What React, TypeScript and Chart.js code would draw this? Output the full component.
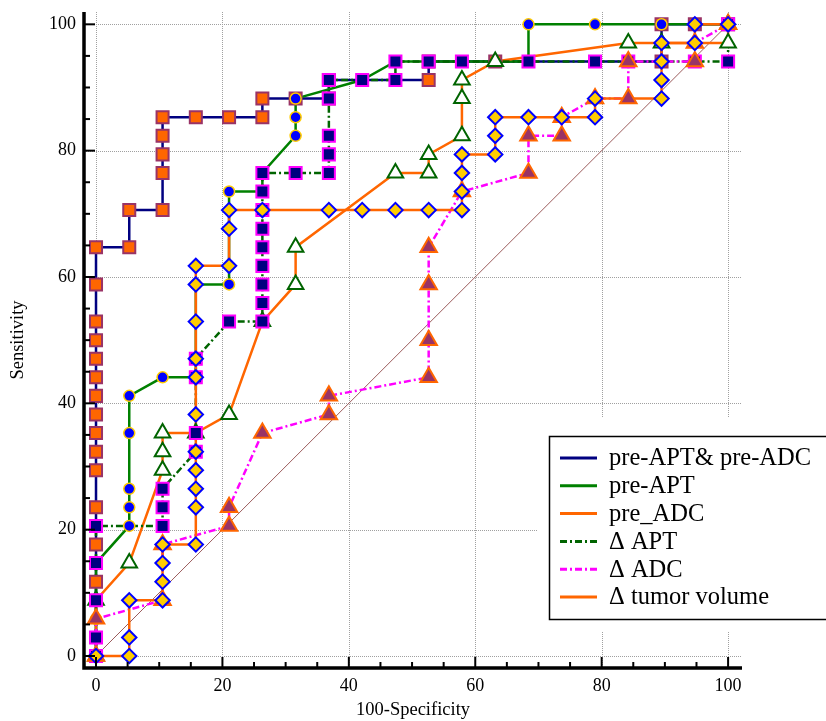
import React, { useEffect, useRef } from 'react';
import { Chart, registerables } from 'chart.js';

Chart.register(...registerables);

// ---------- data ----------
const seriesLabels = ['pre-APT& pre-ADC', 'pre-APT', 'pre_ADC', '\u0394 APT', '\u0394 ADC', '\u0394 tumor volume'];

const preAptAdcX = [0, 0, 0, 0, 0, 0, 0, 0, 0, 0, 0, 0, 0, 0, 0, 5.26, 5.26, 10.53, 10.53, 10.53, 10.53, 10.53, 15.79, 21.05, 26.32, 26.32, 31.58, 36.84, 36.84, 52.63, 52.63, 63.16, 89.47, 89.47, 94.74, 100];
const preAptAdcY = [0, 11.76, 17.65, 23.53, 29.41, 32.35, 35.29, 38.24, 41.18, 44.12, 47.06, 50, 52.94, 58.82, 64.71, 64.71, 70.59, 70.59, 76.47, 79.41, 82.35, 85.29, 85.29, 85.29, 85.29, 88.24, 88.24, 88.24, 91.18, 91.18, 94.12, 94.12, 94.12, 100, 100, 100];

const preAptX = [0, 0, 0, 5.26, 5.26, 5.26, 5.26, 5.26, 10.53, 15.79, 15.79, 21.05, 21.05, 26.32, 26.32, 31.58, 31.58, 31.58, 42.11, 47.37, 68.42, 68.42, 78.95, 89.47, 100];
const preAptY = [0, 5.88, 14.71, 20.59, 23.53, 26.47, 35.29, 41.18, 44.12, 44.12, 58.82, 58.82, 73.53, 73.53, 76.47, 82.35, 85.29, 88.24, 91.18, 94.12, 94.12, 100, 100, 100, 100];

const preAdcX = [0, 0, 5.26, 10.53, 10.53, 10.53, 15.79, 21.05, 26.32, 31.58, 31.58, 47.37, 52.63, 52.63, 57.89, 57.89, 57.89, 63.16, 84.21, 89.47, 100, 100];
const preAdcY = [0, 8.82, 14.71, 29.41, 32.35, 35.29, 35.29, 38.24, 52.94, 58.82, 64.71, 76.47, 76.47, 79.41, 82.35, 88.24, 91.18, 94.12, 97.06, 97.06, 97.06, 100];

const deltaAptX = [0, 0, 0, 0, 0, 10.53, 10.53, 10.53, 15.79, 15.79, 15.79, 15.79, 21.05, 26.32, 26.32, 26.32, 26.32, 26.32, 26.32, 26.32, 26.32, 26.32, 31.58, 36.84, 36.84, 36.84, 36.84, 36.84, 42.11, 47.37, 47.37, 52.63, 57.89, 68.42, 78.95, 84.21, 94.74, 100, 100];
const deltaAptY = [0, 2.94, 8.82, 14.71, 20.59, 20.59, 23.53, 26.47, 32.35, 35.29, 44.12, 47.06, 52.94, 52.94, 55.88, 58.82, 61.76, 64.71, 67.65, 70.59, 73.53, 76.47, 76.47, 76.47, 79.41, 82.35, 88.24, 91.18, 91.18, 91.18, 94.12, 94.12, 94.12, 94.12, 94.12, 94.12, 94.12, 94.12, 100];

const deltaAdcX = [0, 0, 10.53, 10.53, 21.05, 21.05, 26.32, 36.84, 36.84, 52.63, 52.63, 52.63, 52.63, 57.89, 68.42, 68.42, 73.68, 73.68, 78.95, 84.21, 84.21, 94.74, 94.74, 100];
const deltaAdcY = [0, 5.88, 8.82, 17.65, 20.59, 23.53, 35.29, 38.24, 41.18, 44.12, 50, 58.82, 64.71, 73.53, 76.47, 82.35, 82.35, 85.29, 88.24, 88.24, 94.12, 94.12, 97.06, 100];

const deltaTvX = [0, 5.26, 5.26, 5.26, 10.53, 10.53, 10.53, 10.53, 15.79, 15.79, 15.79, 15.79, 15.79, 15.79, 15.79, 15.79, 15.79, 15.79, 15.79, 21.05, 21.05, 21.05, 26.32, 36.84, 42.11, 47.37, 52.63, 57.89, 57.89, 57.89, 57.89, 63.16, 63.16, 63.16, 68.42, 73.68, 78.95, 78.95, 89.47, 89.47, 89.47, 89.47, 94.74, 94.74, 100];
const deltaTvY = [0, 0, 2.94, 8.82, 8.82, 11.76, 14.71, 17.65, 17.65, 23.53, 26.47, 29.41, 32.35, 38.24, 44.12, 47.06, 52.94, 58.82, 61.76, 61.76, 67.65, 70.59, 70.59, 70.59, 70.59, 70.59, 70.59, 70.59, 73.53, 76.47, 79.41, 79.41, 82.35, 85.29, 85.29, 85.29, 85.29, 88.24, 88.24, 91.18, 94.12, 97.06, 97.06, 100, 100];

const diagX = [0, 100];
const diagY = [0, 100];

const tickValues = [0, 5, 10, 15, 20, 25, 30, 35, 40, 45, 50, 55, 60, 65, 70, 75, 80, 85, 90, 95, 100];
const labelValues = [0, 20, 40, 60, 80, 100];

// ---------- styles ----------
const SERIF = "'Liberation Serif', 'Times New Roman', Times, serif";

const styles = [
  { line: '#000080', dash: [] as number[], shape: 'rect', fill: '#FF6600', stroke: '#993366', r: 8.5, bw: 2 },
  { line: '#008000', dash: [] as number[], shape: 'circle', fill: '#0000FF', stroke: '#FFCC00', r: 5.5, bw: 1.5 },
  { line: '#FF6600', dash: [] as number[], shape: 'triangle', fill: '#FFFFFF', stroke: '#006400', r: 9, bw: 2 },
  { line: '#006400', dash: [7, 3, 2, 3], shape: 'rect', fill: '#000080', stroke: '#FF00FF', r: 8.5, bw: 2 },
  { line: '#FF00FF', dash: [7, 3, 2, 3], shape: 'triangle', fill: '#993366', stroke: '#FF6600', r: 9.5, bw: 2 },
  { line: '#FF6600', dash: [] as number[], shape: 'rectRot', fill: '#FFCC00', stroke: '#0000FF', r: 7.2, bw: 2 },
];

const rocPlugin = {
  id: 'rocFrame',
  beforeDatasetsDraw(chart: any) {
    const { ctx, chartArea: a } = chart;
    const xs = chart.scales.x;
    const ys = chart.scales.y;
    ctx.save();
    ctx.strokeStyle = '#a0a0a0';
    ctx.lineWidth = 1;
    ctx.setLineDash([1, 1]);
    labelValues.forEach((v) => {
      const px = Math.round(xs.getPixelForValue(v)) + 0.5;
      ctx.beginPath();
      ctx.moveTo(px, a.top);
      ctx.lineTo(px, a.bottom);
      ctx.stroke();
      const py = Math.round(ys.getPixelForValue(v)) + 0.5;
      ctx.beginPath();
      ctx.moveTo(a.left, py);
      ctx.lineTo(a.right, py);
      ctx.stroke();
    });
    ctx.setLineDash([]);
    ctx.fillStyle = '#ffffff';
    ctx.fillRect(538, 418, chart.width - 538, 214);
    ctx.restore();
  },
  afterDatasetsDraw(chart: any) {
    const { ctx, chartArea: a } = chart;
    const xs = chart.scales.x;
    const ys = chart.scales.y;
    ctx.save();
    // axis lines
    ctx.strokeStyle = '#000';
    ctx.lineWidth = 3.5;
    ctx.lineJoin = 'miter';
    ctx.beginPath();
    ctx.moveTo(a.left, a.top);
    ctx.lineTo(a.left, a.bottom);
    ctx.lineTo(a.right, a.bottom);
    ctx.stroke();
    // inward ticks
    ctx.lineWidth = 2;
    tickValues.forEach((v) => {
      const len = labelValues.includes(v) ? 11 : 6;
      const px = xs.getPixelForValue(v);
      ctx.beginPath();
      ctx.moveTo(px, a.bottom);
      ctx.lineTo(px, a.bottom - len);
      ctx.stroke();
      const py = ys.getPixelForValue(v);
      ctx.beginPath();
      ctx.moveTo(a.left, py);
      ctx.lineTo(a.left + len, py);
      ctx.stroke();
    });
    // legend
    const lx = 549;
    const ly = 436;
    ctx.fillStyle = '#fff';
    ctx.fillRect(lx, ly, 300, 183);
    ctx.strokeStyle = '#000';
    ctx.lineWidth = 1.5;
    ctx.strokeRect(lx + 0.5, ly + 0.5, 300, 183);
    seriesLabels.forEach((label, i) => {
      const cy = 458 + i * 27.8;
      ctx.strokeStyle = styles[i].line;
      ctx.lineWidth = 3;
      ctx.setLineDash(styles[i].dash);
      ctx.beginPath();
      ctx.moveTo(560, cy);
      ctx.lineTo(597, cy);
      ctx.stroke();
      ctx.setLineDash([]);
      ctx.fillStyle = '#000';
      ctx.font = `24.5px ${SERIF}`;
      ctx.textBaseline = 'middle';
      ctx.textAlign = 'left';
      ctx.fillText(label, 609, cy + 1);
    });
    ctx.restore();
  },
};

export default function App() {
  const ref = useRef<HTMLCanvasElement>(null);

  useEffect(() => {
    const canvas = ref.current;
    if (!canvas) return;
    const curves = [
      [preAptAdcX, preAptAdcY],
      [preAptX, preAptY],
      [preAdcX, preAdcY],
      [deltaAptX, deltaAptY],
      [deltaAdcX, deltaAdcY],
      [deltaTvX, deltaTvY],
    ];
    const toPts = (xs: number[], ys: number[]) => xs.map((x, i) => ({ x, y: ys[i] }));

    const diagSet: any = {
      label: 'diagonal',
      data: toPts(diagX, diagY),
      showLine: true,
      borderColor: '#9b5b5b',
      borderWidth: 1,
      pointRadius: 0,
      order: 1000,
    };
    const lineSets: any[] = curves.map(([xs, ys], i) => ({
      label: seriesLabels[i],
      data: toPts(xs, ys),
      showLine: true,
      borderColor: styles[i].line,
      borderWidth: 2.5,
      borderDash: styles[i].dash,
      pointRadius: 0,
      tension: 0,
      fill: false,
      order: 500 - i,
    }));
    const markerSets: any[] = curves.map(([xs, ys], i) => ({
      label: seriesLabels[i] + ' points',
      data: toPts(xs, ys),
      showLine: false,
      pointStyle: styles[i].shape,
      pointRadius: styles[i].r,
      pointBackgroundColor: styles[i].fill,
      pointBorderColor: styles[i].stroke,
      pointBorderWidth: styles[i].bw,
      order: 100 - i,
    }));

    const chart = new Chart(canvas, {
      type: 'scatter',
      data: { datasets: [diagSet, ...lineSets, ...markerSets] },
      options: {
        responsive: false,
        animation: false,
        events: [],
        layout: { padding: { top: 12, right: 84, bottom: 0, left: 0 } },
        plugins: { legend: { display: false }, tooltip: { enabled: false } },
        scales: {
          x: {
            type: 'linear',
            position: 'bottom',
            min: -1.9,
            max: 102.2,
            afterBuildTicks: (axis: any) => {
              axis.ticks = tickValues.map((v) => ({ value: v }));
            },
            afterFit: (axis: any) => {
              axis.height = 53;
            },
            grid: { display: false, drawTicks: false },
            border: { display: false },
            ticks: {
              autoSkip: false,
              maxRotation: 0,
              padding: 7,
              color: '#000',
              font: { family: SERIF, size: 18 },
              callback: (v: any) => (labelValues.includes(Number(v)) ? String(v) : ''),
            },
            title: {
              display: true,
              text: '100-Specificity',
              color: '#000',
              font: { family: SERIF, size: 18.5 },
              padding: { top: 0, bottom: 0 },
            },
          },
          y: {
            type: 'linear',
            position: 'left',
            min: -1.9,
            max: 101.95,
            afterBuildTicks: (axis: any) => {
              axis.ticks = tickValues.map((v) => ({ value: v }));
            },
            afterFit: (axis: any) => {
              axis.width = 84;
            },
            grid: { display: false, drawTicks: true, tickLength: 8 },
            border: { display: false },
            ticks: {
              autoSkip: false,
              padding: 0,
              color: '#000',
              font: { family: SERIF, size: 18 },
              callback: (v: any) => (labelValues.includes(Number(v)) ? String(v) : ''),
            },
            title: {
              display: true,
              text: 'Sensitivity',
              color: '#000',
              font: { family: SERIF, size: 18.5 },
              padding: { top: 7, bottom: 0 },
            },
          },
        },
      } as any,
      plugins: [rocPlugin],
    });
    return () => chart.destroy();
  }, []);

  return (
    <div style={{ position: 'fixed', left: 0, top: 0, width: 826, height: 721, background: '#fff' }}>
      <canvas ref={ref} width={826} height={721} style={{ display: 'block' }} />
    </div>
  );
}
